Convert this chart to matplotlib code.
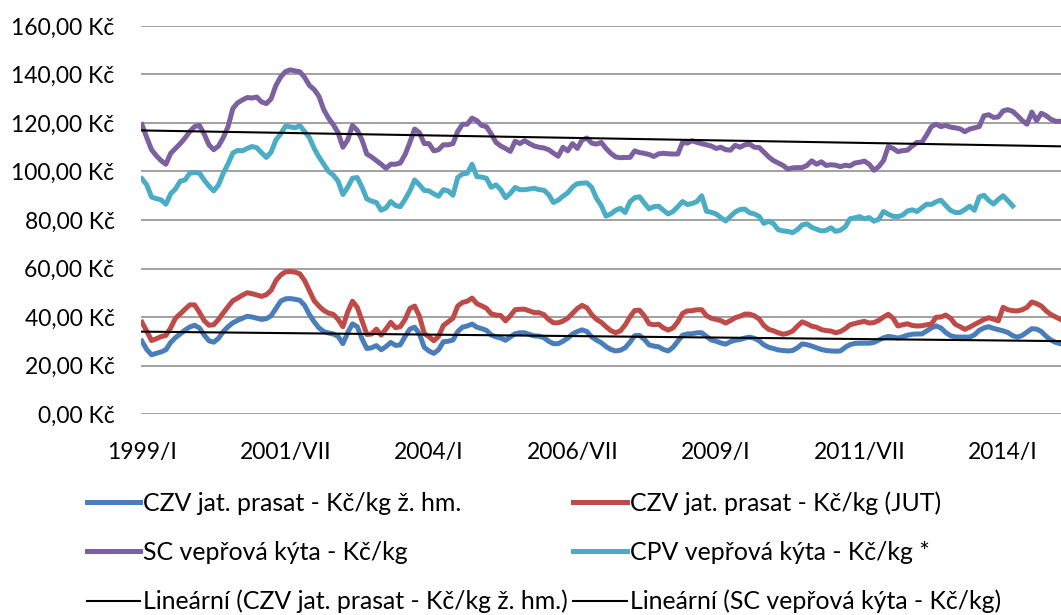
import numpy as np
import matplotlib
matplotlib.use("Agg")
import matplotlib.pyplot as plt

# monthly prices, 1999/I onwards (Kč)
czv_zhm = [30, 26.6, 24.4, 25, 25.6, 26.5, 29.5, 31.5, 33, 34.6,
	35.9, 36.6, 35.5, 32.6, 30.2, 29.6, 31.2, 34, 36, 37.6,
	38.6, 39.5, 40.3, 40, 39.5, 39, 39.3, 40.5, 43.5, 46.5,
	47.5, 47.6, 47.3, 46.9, 44.8, 41, 38, 35.5, 34, 33.4,
	33, 32, 29, 33.5, 37.2, 36, 31, 27, 27.3, 28.2,
	26.5, 27.8, 29.5, 28.3, 28.5, 32, 35, 35.8, 33, 27.5,
	26, 25, 26.5, 29.8, 30, 30.5, 34, 35.8, 36.3, 37.1,
	35.8, 35.2, 34.5, 32.6, 31.8, 31.3, 30.4, 31.8, 33.1, 33.5,
	33.5, 32.8, 32.2, 32.1, 31.5, 30, 29, 29, 30, 31.3,
	33, 34, 34.7, 34, 31.8, 30.5, 29.4, 27.8, 26.6, 26,
	26.3, 27.3, 29.6, 32.3, 32.4, 30.8, 28.5, 28, 27.7, 26.6,
	26, 27.5, 30, 32.5, 33, 33.1, 33.5, 33.5, 32, 30.5,
	30, 29.3, 28.8, 29.8, 30.4, 30.7, 31.3, 31.7, 31.2, 30.2,
	28.5, 27.5, 27, 26.4, 26.2, 26, 26.2, 27.3, 28.9, 28.6,
	28, 27.3, 26.6, 26.2, 26, 25.9, 26, 27.5, 28.6, 29.1,
	29.2, 29.2, 29.2, 29.5, 30.5, 31.4, 32, 31.7, 31.3, 31.8,
	32.5, 32.9, 33, 33, 34.2, 35.5, 36.3, 35.5, 33.6, 32.3,
	31.8, 31.7, 31.7, 31.7, 32.6, 34.5, 35.5, 36, 35.3, 34.8,
	34.3, 33.6, 32.3, 31.7, 32.4, 33.8, 35.2, 35, 34, 32,
	30.5, 29.5, 29]

czv_jut = [37.8, 34.2, 30.3, 31, 31.9, 32.4, 35.5, 39.5, 41.3, 43.2,
	45, 45, 42, 38.5, 36.6, 36.8, 39, 41.7, 44.3, 46.7,
	47.8, 49, 50, 49.6, 49.1, 48.5, 49.2, 51, 55, 57.3,
	58.6, 58.8, 58.5, 57.8, 55, 50.8, 46.7, 44.5, 42.7, 41.6,
	41.1, 39, 36, 42, 46.5, 44, 38.5, 32.8, 33, 35,
	32.5, 35, 37.8, 35.6, 36, 39, 43.5, 44.5, 40.3, 33.2,
	31.9, 30.2, 32, 36.5, 38, 39.5, 44.5, 46, 46.5, 47.8,
	45.5, 44.6, 43.6, 41.3, 40.8, 40.6, 38.4, 40.5, 43, 43.2,
	43.2, 42.5, 41.8, 41.8, 41, 39, 37.6, 37.6, 38.3, 39.5,
	41.5, 43.5, 44.8, 43.8, 41, 39, 37.8, 36, 34.4, 33.5,
	34.3, 36.7, 40, 42.7, 42.8, 40.5, 37.2, 36.8, 37, 35.5,
	34.6, 35.5, 38, 41.5, 42.5, 42.6, 43, 43, 40.5, 39.5,
	39, 38.5, 37.5, 38.5, 39.7, 40.3, 41.2, 41.2, 40.5, 39.2,
	36.5, 34.9, 34.3, 33.5, 32.9, 33.3, 34.2, 36.2, 38, 37.2,
	36.2, 35.8, 34.8, 34.4, 34.2, 33.5, 34, 35.2, 36.8, 37.3,
	37.8, 38.2, 37.5, 37.7, 38.6, 40, 41.1, 39.5, 36.3, 36.8,
	37.2, 36.5, 36.3, 36.4, 36.8, 37.1, 39.9, 40, 40.8, 39.5,
	37, 36, 34.9, 35.8, 36.9, 37.9, 39, 39.7, 39.1, 38.4,
	44, 43, 42.6, 42.5, 43, 44, 46.2, 45.5, 44.5, 42.5,
	41, 40, 39]

sc_kyta = [119.3, 114, 109, 106.5, 104.5, 103, 107.5, 109.5, 111.5, 113.8,
	116.5, 118.5, 119, 115.5, 111, 109, 110.5, 114, 118.5, 126,
	128.3, 129.5, 130.5, 130.3, 130.7, 128.7, 128, 130, 135.5, 139,
	141.2, 141.9, 141.5, 141.1, 138.8, 135.5, 133.8, 131, 125.5, 122,
	119.3, 116, 110, 113, 119, 117, 113, 107.2, 106, 104.5,
	103, 101.3, 103, 103, 103.5, 107, 112, 117.5, 116, 111.5,
	111.5, 108.5, 109, 111, 111, 111.5, 116.5, 119.5, 119.5, 122,
	121, 119, 118.5, 115.5, 112, 110.5, 109.5, 108.3, 112.5, 111.5,
	112.7, 111.5, 110.5, 110, 109.7, 109, 107.6, 106.3, 110, 108.5,
	111.5, 109.5, 113, 113.8, 111.7, 111.3, 112, 109.5, 107.5, 106,
	105.7, 105.8, 105.8, 108.5, 107.8, 107.5, 107, 106.2, 107.3, 107.5,
	107.3, 107.2, 107.2, 112, 111.7, 112.7, 112, 111.5, 111, 110.5,
	109.5, 110, 109, 108.8, 110.8, 110, 111, 111.3, 110, 109.9,
	108, 106, 104.5, 103.5, 102.5, 101, 101.5, 101.6, 101.6, 102.5,
	104.4, 103, 104, 102.5, 102.8, 102.6, 102, 102.6, 102.3, 103.5,
	103.8, 104.3, 103, 100.5, 102, 104.5, 110.3, 109.5, 108.2, 108.6,
	108.8, 110.5, 112, 112, 115, 118.5, 119.5, 118.5, 119, 118.3,
	118, 117.6, 116.4, 117.5, 118, 118.5, 123, 123.4, 122.3, 122.5,
	125, 125.5, 124.8, 123, 121, 119.5, 124.5, 121, 124, 123,
	121.5, 120.7, 120.7]

cpv_kyta = [97, 94.5, 89.5, 88.8, 88.3, 86.5, 90.8, 92.8, 96, 96.5,
	99.3, 99.6, 99.4, 96.5, 94, 92, 94.5, 99.3, 103.2, 107.6,
	108.7, 108.5, 109.5, 110.3, 109.8, 107.7, 105.8, 108, 113, 115.5,
	118.7, 118.4, 118, 118.9, 116.5, 114, 109.5, 106, 103, 100,
	98.5, 96, 90.5, 93.5, 97.2, 97.5, 93.5, 88.7, 87.8, 87.2,
	84, 85, 87.6, 86, 85.5, 88.5, 92, 96.5, 94.5, 92.2,
	92, 90.8, 89.8, 92.5, 92, 90.2, 97.5, 99, 99.3, 103,
	97.9, 97.7, 97.2, 93.5, 94.5, 92.5, 89.2, 91, 93.4, 92.5,
	92.5, 92.8, 93.1, 92.5, 92.3, 90.5, 87.2, 88.2, 89.8, 91.2,
	93.6, 95, 95.2, 95.3, 93.5, 89, 86, 81.6, 82.5, 84,
	84.8, 83.1, 87.5, 89.2, 89.6, 87, 84.6, 85.5, 85.7, 84,
	82.5, 83.5, 85.5, 87.6, 86.4, 86.8, 87.6, 90, 83.6, 83.2,
	82.5, 81, 79.6, 81.5, 83.3, 84.3, 84.5, 83, 82.5, 81.5,
	78.6, 79.5, 78.5, 76, 75.5, 75.3, 74.8, 76, 78, 78.4,
	77, 76.2, 75.5, 75.7, 76.8, 75.3, 75.8, 77.2, 80.5, 80.9,
	81.4, 80.5, 81, 79.5, 80.3, 83.5, 82.4, 81.5, 81.4, 82,
	83.7, 84.2, 83.5, 85, 86.5, 86.4, 87.5, 88.2, 86, 84,
	83.1, 83.1, 84.3, 85.7, 84, 89.5, 90.2, 88, 86.6, 88.5,
	90, 88, 85.8]

tick_labels = ["1999/I", "2001/VII", "2004/I", "2006/VII", "2009/I", "2011/VII", "2014/I"]
names = ["CZV jat. prasat - Kč/kg ž. hm.", "CZV jat. prasat - Kč/kg (JUT)",
	"SC vepřová kýta - Kč/kg", "CPV vepřová kýta - Kč/kg *"]

plt.rcParams["font.family"] = ["Lato", "DejaVu Sans"]
plt.rcParams["font.size"] = 16.5

fig = plt.figure(figsize=(10.61, 6.15), dpi=100)
ax = fig.add_axes([141/1061, 1-414/615, 920/1061, 388/615])

lw = 3.6
l1, = ax.plot(np.arange(len(czv_zhm)), czv_zhm, color="#4a7ebb", lw=lw, solid_joinstyle="round", label=names[0])
l2, = ax.plot(np.arange(len(czv_jut)), czv_jut, color="#be4b48", lw=lw, solid_joinstyle="round", label=names[1])
l3, = ax.plot(np.arange(len(sc_kyta)), sc_kyta, color="#7d60a0", lw=lw, solid_joinstyle="round", label=names[2])
l4, = ax.plot(np.arange(len(cpv_kyta)), cpv_kyta, color="#4bacc6", lw=lw, solid_joinstyle="round", label=names[3])

# linear trends (like Excel trendline)
x = np.arange(len(czv_zhm))
k, q = np.polyfit(x, czv_zhm, 1)
t1, = ax.plot(x, k*x + q, color="black", lw=1.5, label="Lineární (" + names[0] + ")")
x = np.arange(len(sc_kyta))
k, q = np.polyfit(x, sc_kyta, 1)
t2, = ax.plot(x, k*x + q, color="black", lw=1.5, label="Lineární (" + names[2] + ")")

ax.set_ylim(0, 160)
ax.set_xlim(-0.2, 192.1)
ax.set_yticks(np.arange(0, 161, 20))
ax.set_yticklabels([f"{v:.2f}".replace(".", ",") + " Kč" for v in np.arange(0, 161, 20)])
ax.set_xticks(np.arange(len(tick_labels)) * 30)
ax.set_xticklabels(tick_labels)
ax.tick_params(axis="both", length=0)
ax.tick_params(axis="y", pad=19)
ax.tick_params(axis="x", pad=20)
ax.grid(axis="y", color="#878787", lw=1.1)
ax.set_axisbelow(True)
for s in ax.spines.values():
	s.set_visible(False)

fig.legend(handles=[l1, l3, t1, l2, l4, t2], ncol=2, loc="upper left",
	bbox_to_anchor=(87/1061, 1-491/615), frameon=False, borderpad=0, borderaxespad=0,
	fontsize=17.9, handlelength=2.15, handletextpad=0.12, columnspacing=0.2, labelspacing=1.05)

fig.savefig("out.png", dpi=100)
